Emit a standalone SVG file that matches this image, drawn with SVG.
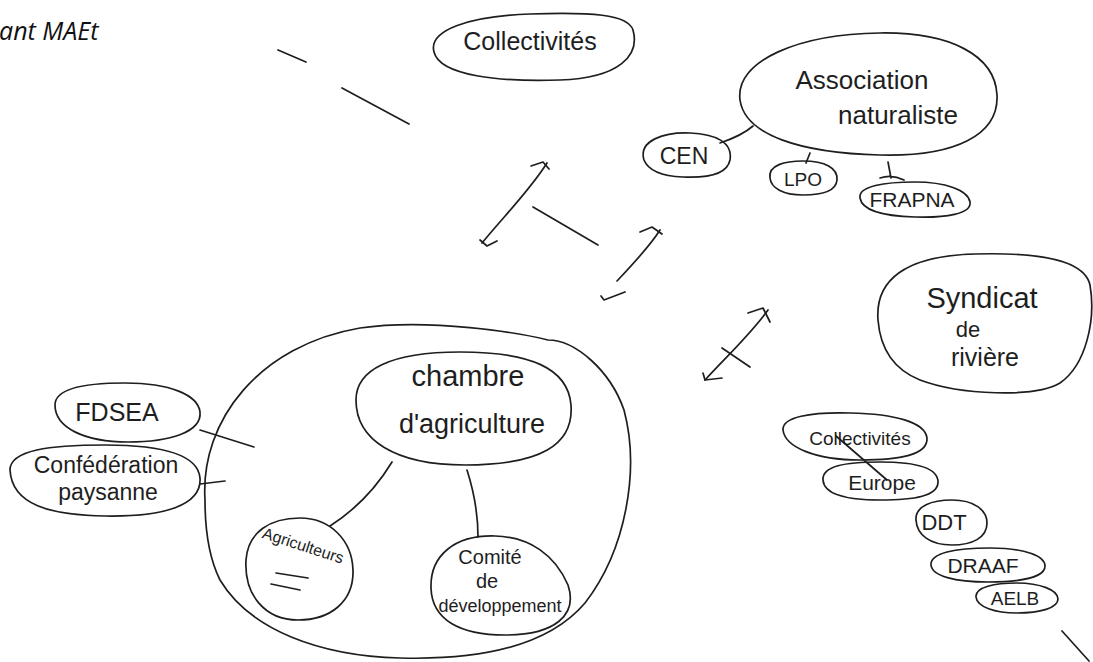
<svg xmlns="http://www.w3.org/2000/svg" width="1093" height="662" viewBox="0 0 1093 662">
<style>
.n{fill:none;stroke:#1e1e1e;stroke-width:1.7;stroke-linecap:round;stroke-linejoin:round}
.t{font-family:"Liberation Sans",Arial,sans-serif;fill:#1e1e1e;text-anchor:middle}
.c{fill:none;stroke:#1e1e1e;stroke-width:1.7;stroke-linecap:round;stroke-linejoin:round}
</style>
<rect x="0" y="0" width="1093" height="662" fill="#ffffff"/>
<text x="-1" y="40" font-family="'Open Sans','Liberation Sans',sans-serif" font-style="italic" font-size="25" fill="#111">ant MAEt</text>

<g id="collectivites-top">
<path class="n" d="M434,52 C428,30 470,16 530,14 C590,12 628,14 633,30 C640,55 620,78 560,80 C500,82 440,76 434,52 Z"/>
<text class="t" x="530" y="50" font-size="25">Collectivités</text>
</g>
<g id="association">
<path class="n" d="M740,100 C735,60 800,34 880,33 C950,32 995,55 997,95 C999,135 955,157 880,155 C800,153 745,135 740,100 Z"/>
<text class="t" x="862" y="89" font-size="26">Association</text>
<text class="t" x="898" y="124" font-size="26">naturaliste</text>
</g>
<g id="cen">
<path class="n" d="M644,160 C638,140 665,132 690,133 C715,134 733,142 730,160 C727,175 705,178 683,177 C660,176 648,170 644,160 Z"/>
<text class="t" x="684" y="164" font-size="23">CEN</text>
</g>
<g id="lpo">
<path class="n" d="M770,178 C768,165 785,161 803,161 C825,161 838,168 837,180 C836,192 820,195 803,195 C783,195 771,188 770,178 Z"/>
<text class="t" x="803" y="186" font-size="19">LPO</text>
</g>
<g id="frapna">
<path class="n" d="M860,198 C858,186 885,182 915,182 C945,182 968,190 970,202 C972,214 945,218 915,217 C880,216 862,210 860,198 Z"/>
<text class="t" x="912" y="207" font-size="21">FRAPNA</text>
</g>
<g id="syndicat">
<path class="n" d="M878,320 C875,280 905,256 975,254 C1045,252 1085,262 1090,285 C1096,320 1086,365 1060,383 C1035,398 960,395 920,380 C890,368 880,345 878,320 Z"/>
<text class="t" x="982" y="308" font-size="29">Syndicat</text>
<text class="t" x="968" y="337" font-size="22">de</text>
<text class="t" x="985" y="366" font-size="25">rivière</text>
</g>
<g id="fdsea">
<path class="n" d="M55,405 C55,388 85,383 125,383 C170,383 198,395 200,412 C202,432 170,442 128,442 C85,442 55,428 55,405 Z"/>
<text class="t" x="117" y="421" font-size="25">FDSEA</text>
</g>
<g id="confederation">
<path class="n" d="M10,470 C10,450 50,445 105,445 C165,445 198,455 200,478 C202,505 165,517 105,516 C50,515 12,505 10,470 Z"/>
<text class="t" x="106" y="473" font-size="23">Confédération</text>
<text class="t" x="108" y="500" font-size="23">paysanne</text>
</g>
<g id="chambre-zone">
<path class="n" d="M205,500 C200,420 260,345 360,328 C430,318 520,333 548,340 C575,340 610,370 624,410 C640,470 626,550 585,603 C545,650 470,660 400,658 C320,656 250,630 220,580 C210,560 205,530 205,500 Z"/>
</g>
<g id="chambre">
<path class="n" d="M356,400 C356,370 390,352 460,352 C530,352 568,368 571,405 C574,445 540,465 465,465 C395,465 356,440 356,400 Z"/>
<text class="t" x="468" y="386" font-size="29">chambre</text>
<text class="t" x="472" y="433" font-size="27">d'agriculture</text>
</g>
<g id="agriculteurs">
<path class="n" d="M246,560 C248,532 270,518 300,518 C330,518 352,540 353,570 C354,602 330,620 298,620 C265,620 244,595 246,560 Z"/>
<text class="t" x="303" y="551" font-size="16" transform="rotate(18 303 546)">Agriculteurs</text>
<path class="n" d="M276,573 L308,578 M271,584 L300,590"/>
</g>
<g id="comite">
<path class="n" d="M431,588 C430,555 455,535 495,536 C530,537 555,555 568,585 C578,615 555,635 505,635 C460,635 432,620 431,588 Z"/>
<text class="t" x="490" y="564" font-size="20">Comité</text>
<text class="t" x="487" y="588" font-size="20">de</text>
<text class="t" x="500" y="612" font-size="18">développement</text>
</g>
<g id="collectivites-bas">
<path class="n" d="M783,430 C782,417 810,412 850,413 C895,414 925,422 927,438 C928,455 900,460 860,460 C815,460 785,447 783,430 Z"/>
<text class="t" x="860" y="445" font-size="19">Collectivités</text>
</g>
<g id="europe">
<path class="n" d="M823,480 C822,466 845,462 880,462 C915,462 938,468 938,482 C938,496 915,500 880,500 C845,500 824,494 823,480 Z"/>
<text class="t" x="882" y="490" font-size="21">Europe</text>
</g>
<g id="ddt">
<path class="n" d="M916,520 C915,506 932,500 952,500 C974,500 987,510 987,523 C987,538 972,545 952,545 C930,545 917,535 916,520 Z"/>
<text class="t" x="944" y="530" font-size="22">DDT</text>
</g>
<g id="draaf">
<path class="n" d="M931,565 C930,553 955,548 990,548 C1025,548 1045,556 1045,566 C1045,577 1022,582 988,582 C955,582 932,576 931,565 Z"/>
<text class="t" x="983" y="573" font-size="21">DRAAF</text>
</g>
<g id="aelb">
<path class="n" d="M976,597 C975,587 995,583 1017,583 C1040,583 1058,590 1058,599 C1058,608 1040,613 1017,613 C995,613 977,607 976,597 Z"/>
<text class="t" x="1015" y="605" font-size="19">AELB</text>
</g>

<g id="connectors">
<path class="c" d="M278,50 L306,62"/>
<path class="c" d="M342,88 L409,124"/>
<path class="c" d="M720,143 C735,138 745,133 753,126"/>
<path class="c" d="M810,153 L806,163"/>
<path class="c" d="M888,162 L891,178 M880,178 Q892,174 904,180"/>
<path class="c" d="M200,430 L254,447"/>
<path class="c" d="M200,484 L225,481"/>
<path class="c" d="M392,462 C375,490 355,510 330,526"/>
<path class="c" d="M467,470 C475,495 478,515 478,537"/>
<path class="c" d="M836,436 L887,480"/>
<path class="c" d="M1062,631 L1089,661"/>
<path class="c" d="M482,243 C505,215 530,190 547,163"/>
<path class="c" d="M531,166 L543,162 L549,169"/>
<path class="c" d="M480,240 L487,246 L497,241"/>
<path class="c" d="M533,207 L598,245"/>
<path class="c" d="M617,281 C635,262 650,246 660,230"/>
<path class="c" d="M640,232 L652,227 L662,234"/>
<path class="c" d="M625,292 L604,300 L601,296"/>
<path class="c" d="M705,380 C725,358 750,335 768,310"/>
<path class="c" d="M748,313 L763,308 L770,322"/>
<path class="c" d="M703,373 L705,380 L722,378"/>
<path class="c" d="M722,348 L750,367"/>
</g>
</svg>
